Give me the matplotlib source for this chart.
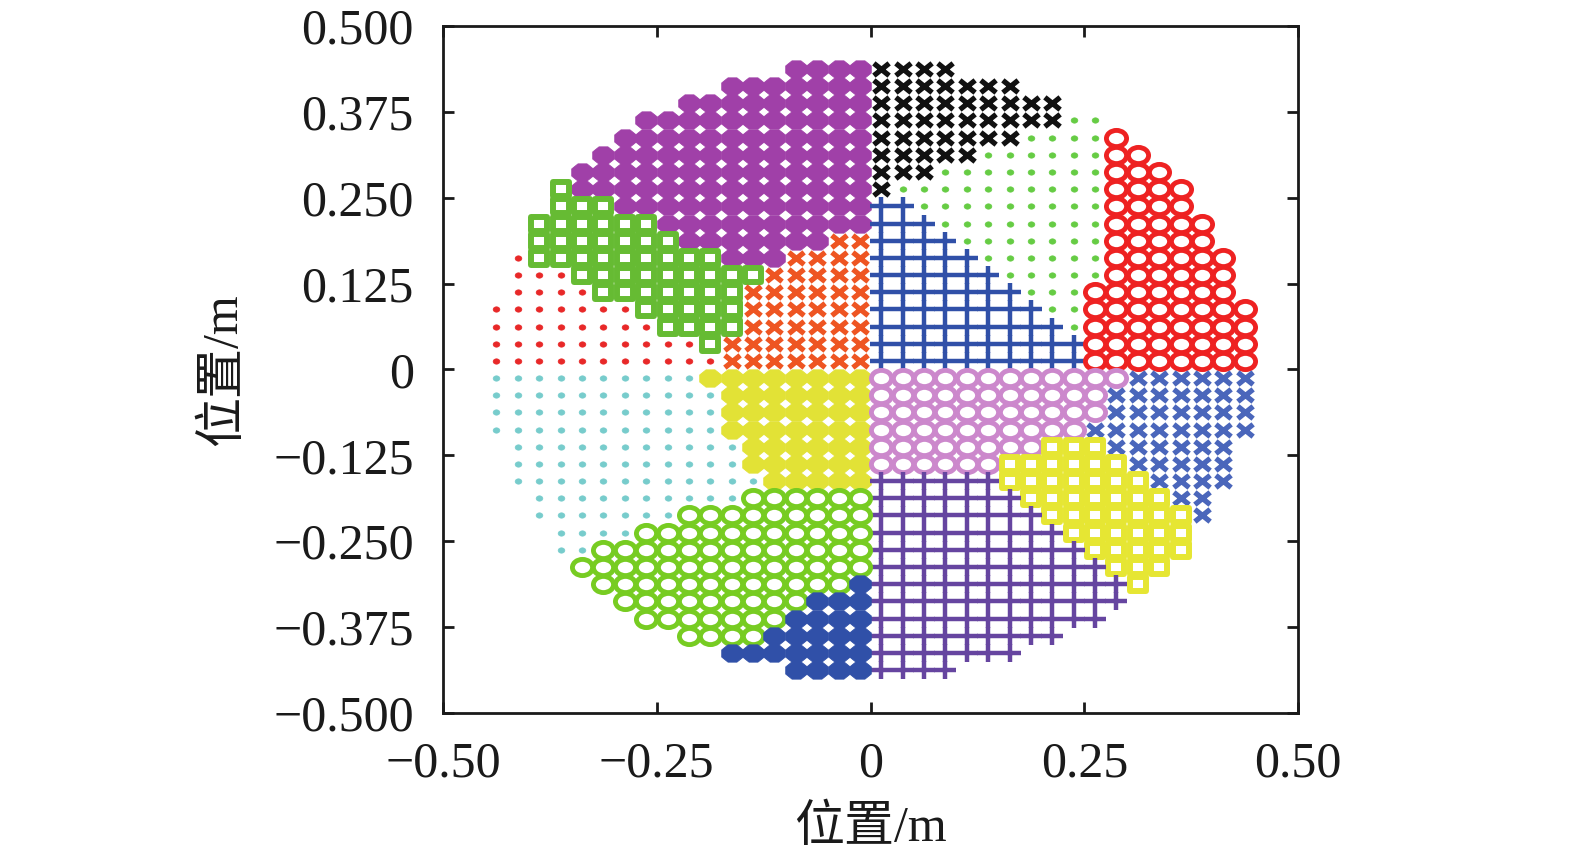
import matplotlib
matplotlib.use("Agg")
import matplotlib.pyplot as plt
import numpy as np
from matplotlib.markers import MarkerStyle
from matplotlib.path import Path

plt.rcParams["font.family"] = ["Liberation Serif", "Noto Sans CJK SC"]
plt.rcParams["axes.unicode_minus"] = True

# grid of sample points (cell centres), spacing 0.025 m
GRID_START = -0.4375
GRID_STEP = 0.025

# which cluster every grid point belongs to, top row first ('.' = no point)
LABEL_MAP = [
    "..............PPPPKKKK..............",
    "...........PPPPPPPKKKKKKK...........",
    ".........PPPPPPPPPKKKKKKKKK.........",
    ".......PPPPPPPPPPPKKKKKKKKKgg.......",
    "......PPPPPPPPPPPPKKKKKKKggggR......",
    ".....PPPPPPPPPPPPPKKKKKggggggRR.....",
    "....PPPPPPPPPPPPPPKKKggggggggRRR....",
    "...SPPPPPPPPPPPPPPKggggggggggRRRR...",
    "...SSSPPPPPPPPPPPPBBgggggggggRRRR...",
    "..SSSSSSPPPPPPPPPPBBBggggggggRRRRR..",
    "..SSSSSSSPPPPPPPOOBBBBgggggggRRRRR..",
    ".rSSSSSSSSSPPPOOOOBBBBBggggggRRRRRR.",
    ".rrrSSSSSSSSSOOOOOBBBBBBgggggRRRRRR.",
    ".rrrrSSSSSSSOOOOOOBBBBBBBgggRRRRRRR.",
    "rrrrrrrSSSSSOOOOOOBBBBBBBBggRRRRRRRR",
    "rrrrrrrrSSSSOOOOOOBBBBBBBBBgRRRRRRRR",
    "rrrrrrrrrrSOOOOOOOBBBBBBBBBBRRRRRRRR",
    "rrrrrrrrrrrOOOOOOOBBBBBBBBBBRRRRRRRR",
    "ccccccccccYYYYYYYYLLLLLLLLLLLLXXXXXX",
    "cccccccccccYYYYYYYLLLLLLLLLLLXXXXXXX",
    "cccccccccccYYYYYYYLLLLLLLLLLLXXXXXXX",
    "cccccccccccYYYYYYYLLLLLLLLLLXXXXXXXX",
    ".cccccccccccYYYYYYLLLLLLLLyyyXXXXXX.",
    ".cccccccccccYYYYYYLLLLLLyyyyyyXXXXX.",
    ".ccccccccccccYYYYYVVVVVVyyyyyyyXXXX.",
    "..ccccccccccGGGGGGVVVVVVVyyyyyyyXX..",
    "..cccccccGGGGGGGGGVVVVVVVVyyyyyyyX..",
    "...ccccGGGGGGGGGGGVVVVVVVVVyyyyyy...",
    "...ccGGGGGGGGGGGGGVVVVVVVVVVyyyyy...",
    "....GGGGGGGGGGGGGGVVVVVVVVVVVyyy....",
    ".....GGGGGGGGGGGGDVVVVVVVVVVVVy.....",
    "......GGGGGGGGGDDDVVVVVVVVVVVV......",
    ".......GGGGGGGDDDDVVVVVVVVVVV.......",
    ".........GGGGDDDDDVVVVVVVVV.........",
    "...........DDDDDDDVVVVVVV...........",
    "..............DDDDVVVV..............",
]

CLUSTERS = ["r", "c", "g", "P", "K", "S", "O", "B", "R", "Y", "L", "X", "y", "V", "G", "D"]
COLORS = {
    "P": "#a040a8", "K": "#111111", "g": "#66cc44", "R": "#ee2222",
    "B": "#3050a8", "S": "#66bb33", "r": "#e82828", "O": "#ee5522",
    "c": "#77cccc", "Y": "#e2e236", "G": "#77cc22", "D": "#3050a8",
    "V": "#6645a0", "L": "#cc88cc", "y": "#e6e633", "X": "#4a66bb",
}
SHAPES = {
    "P": "blob", "Y": "blob", "D": "blob",
    "K": "x", "O": "x", "X": "x",
    "B": "+", "V": "+",
    "R": "o", "G": "o", "L": "o",
    "S": "s", "y": "s",
    "g": ".", "r": ".", "c": ".",
}

XTICKS = [-0.5, -0.25, 0, 0.25, 0.5]
XTICK_LABELS = ["\u22120.50", "\u22120.25", "0", "0.25", "0.50"]
YTICKS = [0.5, 0.375, 0.25, 0.125, 0, -0.125, -0.25, -0.375, -0.5]
YTICK_LABELS = ["0.500", "0.375", "0.250", "0.125", "0",
                "\u22120.125", "\u22120.250", "\u22120.375", "\u22120.500"]


def stretched(m, sx=1.245):
    # the original figure was widened, so every marker is wider than tall
    ms = MarkerStyle(m)
    p = ms.get_path().transformed(ms.get_transform())
    return Path(p.vertices * [sx, 1.0], p.codes)


marker_kw = {
    "blob": dict(marker=stretched("8"), ms=15.5, mew=0.6, filled=True),
    "x": dict(marker=stretched("x"), ms=11, mew=3.8, filled=False),
    "+": dict(marker=stretched("+"), ms=15.5, mew=3.2, filled=False),
    "o": dict(marker=stretched("o"), ms=14.5, mew=3.5, filled=False),
    "s": dict(marker=stretched("s"), ms=12, mew=4.3, filled=False),
    ".": dict(marker=stretched("o"), ms=4.8, mew=0.5, filled=True),
}

grid = np.array([list(row) for row in LABEL_MAP])
rows, cols = np.indices(grid.shape)
xs_all = GRID_START + GRID_STEP * cols
ys_all = -GRID_START - GRID_STEP * rows

fig = plt.figure(figsize=(15.75, 8.58), dpi=100)
ax = fig.add_axes([0.2813, 0.169, 0.5429, 0.8007])

for key in CLUSTERS:
    sel = grid == key
    kw = dict(marker_kw[SHAPES[key]])
    filled = kw.pop("filled")
    col = COLORS[key]
    ax.plot(xs_all[sel], ys_all[sel], linestyle="none", mec=col,
            mfc=col if filled else "none", **kw)

ax.set_xlim(-0.5, 0.5)
ax.set_ylim(-0.5, 0.5)
ax.set_xticks(XTICKS)
ax.set_xticklabels(XTICK_LABELS)
ax.set_yticks(YTICKS)
ax.set_yticklabels(YTICK_LABELS)
ax.tick_params(direction="in", length=8, width=2, top=True, right=True,
               labelsize=36, colors="#1a1a1a")
ax.tick_params(axis="x", pad=20)
ax.tick_params(axis="y", pad=21)
for s in ax.spines.values():
    s.set_linewidth(2)
    s.set_color("#1a1a1a")

ax.set_xlabel("位置/m", fontsize=36, color="#1a1a1a")
ax.xaxis.set_label_coords(0.5, -0.168)
ax.xaxis.label.set_va("center")
ax.set_ylabel("位置/m", fontsize=36, color="#1a1a1a")
ax.yaxis.set_label_coords(-0.256, 0.5)
ax.yaxis.label.set_va("center")

fig.savefig("out.png", dpi=100)
